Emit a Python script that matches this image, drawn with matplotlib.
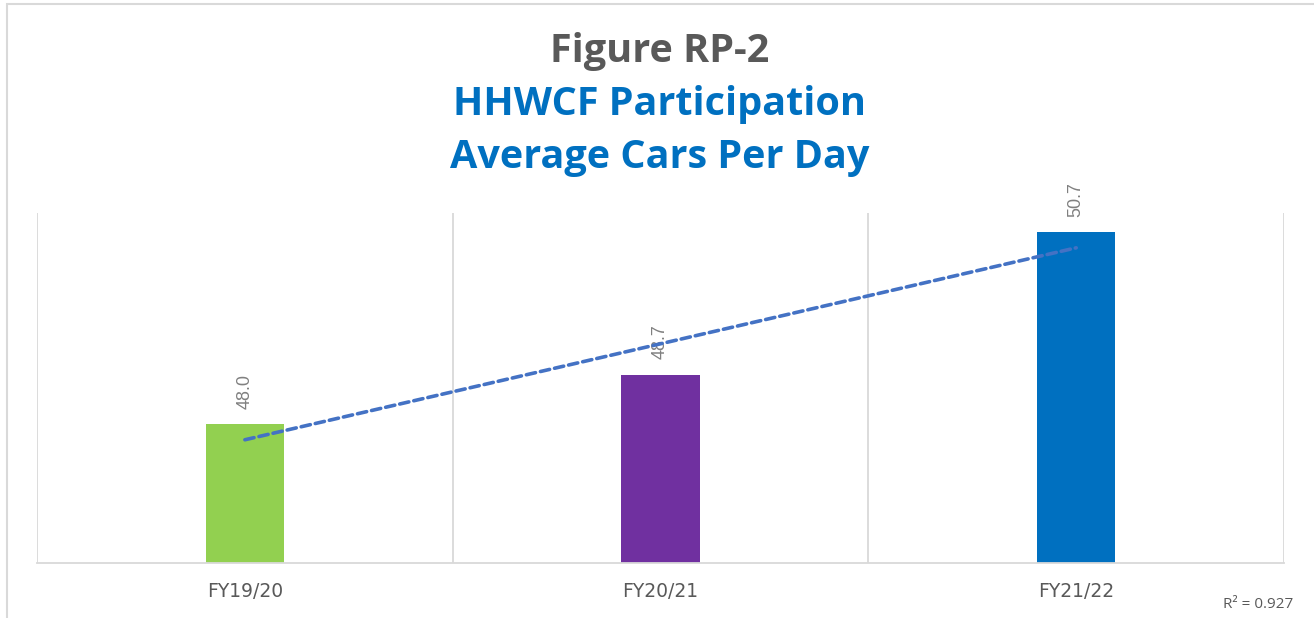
import matplotlib.pyplot as plt
import numpy as np
from matplotlib.patches import Rectangle

# data
years = ["FY19/20", "FY20/21", "FY21/22"]
cars_per_day = [48.0, 48.7, 50.7]
bar_colors = ["#92D050", "#7030A0", "#0070C0"]
r2_text = "R\u00b2 = 0.927"   # as printed on the original trendline

fig = plt.figure(figsize=(13.14, 6.18), dpi=100)
ax = fig.add_axes([0.0282, 0.089, 0.949, 0.566])

x = np.arange(1, len(years) + 1)
ax.bar(x, cars_per_day, width=0.188, color=bar_colors, zorder=2)

# value labels, rotated like the original
for xi, v in zip(x, cars_per_day):
    ax.annotate(f"{v:.1f}", (xi, v), xytext=(0, 11), textcoords="offset points",
                rotation=90, ha="center", va="bottom", fontsize=13,
                color="#808080", family="Liberation Sans", zorder=1)

# linear trendline
k, b = np.polyfit(x, cars_per_day, 1)
ax.plot([x[0], x[-1]], [k * x[0] + b, k * x[-1] + b], color="#4472C4", lw=2.6,
        ls=(0, (2.6, 1.4)), dash_capstyle="round", zorder=3)

ax.set_xlim(0.5, 3.5)
ax.set_ylim(46.05, 50.97)
ax.set_yticks([])
ax.set_xticks(x)
ax.set_xticklabels(years, fontsize=13.5, color="#595959", family="DejaVu Sans")
ax.tick_params(axis="x", length=0, pad=14)

# category separators
for sep in [0.5, 1.5, 2.5, 3.5]:
    ax.axvline(sep, color="#D9D9D9", lw=1.3, zorder=0)

for s in ["top", "left", "right"]:
    ax.spines[s].set_visible(False)
ax.spines["bottom"].set_color("#D9D9D9")
ax.spines["bottom"].set_linewidth(1.3)

# title
title_kw = dict(ha="center", va="center", fontsize=28.5, fontweight="bold", family="Open Sans")
fig.text(0.502, 0.917, "Figure RP-2", color="#595959", **title_kw)
fig.text(0.502, 0.831, "HHWCF Participation", color="#0070C0", **title_kw)
fig.text(0.502, 0.745, "Average Cars Per Day", color="#0070C0", **title_kw)

fig.text(0.984, 0.022, r2_text, ha="right", va="center",
         fontsize=11, color="#595959", family="Open Sans")

# chart border
fig.patches.append(Rectangle((7 / 1314, -0.05), 1.0, 1.0 - 4 / 618 + 0.05,
                             transform=fig.transFigure, fill=False,
                             edgecolor="#D9D9D9", lw=1.5))

fig.savefig("out.png", dpi=100)
